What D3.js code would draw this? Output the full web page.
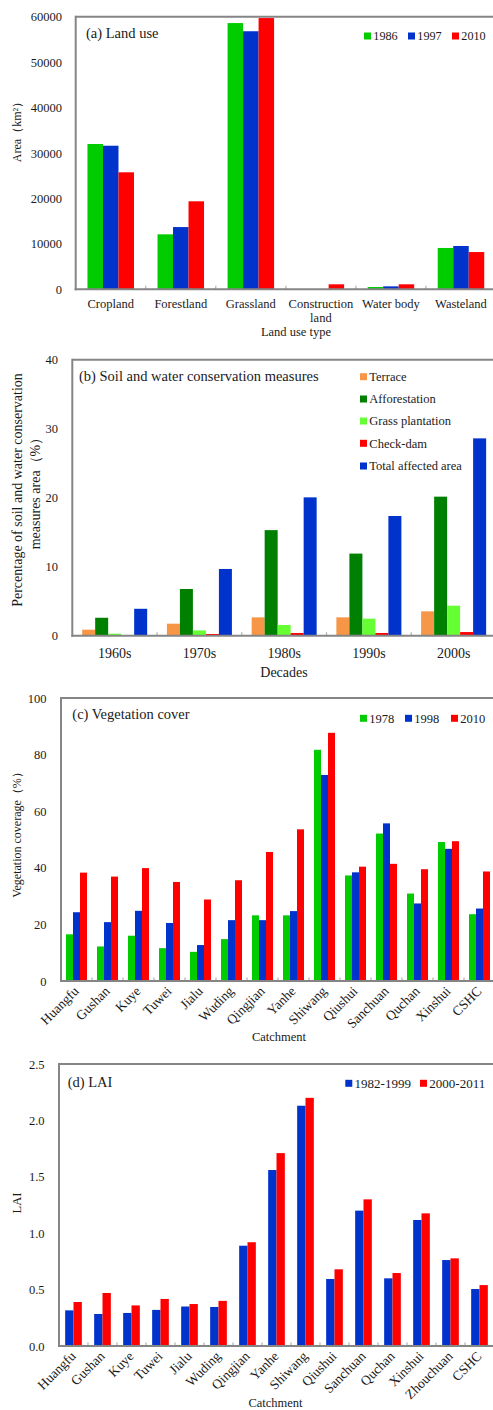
<!DOCTYPE html>
<html>
<head>
<meta charset="utf-8">
<script src="https://cdn.jsdelivr.net/npm/d3@7"></script>
<style>
  html, body { margin: 0; padding: 0; background: #fff; }
  svg { display: block; }
  text { font-family: "Liberation Serif", "Times New Roman", serif; fill: #1a1a1a; }
</style>
</head>
<body>
<svg id="chart" width="493" height="1410"></svg>
<script>
// (a) Land use area, km²
const landTypes = ["Cropland", "Forestland", "Grassland", "Construction land", "Water body", "Wasteland"];
const land1986 = [31980, 12100, 58600, 0, 500, 9100];
const land1997 = [31600, 13700, 56800, 0, 650, 9530];
const land2010 = [25750, 19370, 59700, 1100, 1100, 8200];
const landTicks = [0, 10000, 20000, 30000, 40000, 50000, 60000];

// (b) Soil and water conservation measures, % of area
const decades = ["1960s", "1970s", "1980s", "1990s", "2000s"];
const terrace = [0.87, 1.74, 2.66, 2.66, 3.53];
const afforestation = [2.6, 6.77, 15.3, 11.9, 20.15];
const grassPlantation = [0.29, 0.77, 1.55, 2.47, 4.35];
const checkDam = [0.1, 0.25, 0.39, 0.39, 0.53];
const totalAffected = [3.9, 9.67, 20.05, 17.35, 28.6];
const swcTicks = [0, 10, 20, 30, 40];

// (c) Vegetation cover, %
const catchmentsC = ["Huangfu", "Gushan", "Kuye", "Tuwei", "Jialu", "Wuding", "Qingjian", "Yanhe",
  "Shiwang", "Qiushui", "Sanchuan", "Quchan", "Xinshui", "CSHC"];
const cover1978 = [16.5, 12.2, 16.0, 11.6, 10.3, 14.8, 23.2, 23.2, 81.7, 37.3, 52.1, 30.9, 49.1, 23.6];
const cover1998 = [24.3, 20.8, 24.8, 20.5, 12.7, 21.5, 21.5, 24.7, 72.8, 38.4, 55.7, 27.4, 46.7, 25.6];
const cover2010 = [38.3, 36.9, 39.9, 35.0, 28.8, 35.6, 45.6, 53.6, 87.7, 40.4, 41.4, 39.5, 49.4, 38.7];
const coverTicks = [0, 20, 40, 60, 80, 100];

// (d) Leaf area index
const catchmentsD = ["Huangfu", "Gushan", "Kuye", "Tuwei", "Jialu", "Wuding", "Qingjian", "Yanhe",
  "Shiwang", "Qiushui", "Sanchuan", "Quchan", "Xinshui", "Zhouchuan", "CSHC"];
const lai1982_1999 = [0.316, 0.284, 0.293, 0.32, 0.35, 0.346, 0.889, 1.56, 2.13, 0.594, 1.20, 0.60, 1.117, 0.762, 0.505];
const lai2000_2011 = [0.39, 0.47, 0.36, 0.417, 0.372, 0.40, 0.92, 1.71, 2.20, 0.68, 1.30, 0.647, 1.176, 0.777, 0.54];
const laiTicks = [0, 0.5, 1.0, 1.5, 2.0, 2.5];

const GREEN = "#00cc00", BLUE = "#0033cc", RED = "#ff0000";
const AXIS = "#858585";

const svg = d3.select("#chart");

function drawPanel(p) {
  const g = svg.append("g");
  const x0 = d3.scaleBand().domain(p.categories).range([p.left, p.right])
    .paddingInner(p.pad).paddingOuter(p.pad / 2);
  const x1 = d3.scaleBand().domain(p.series.map(s => s.name)).range([0, x0.bandwidth()]);
  const y = d3.scaleLinear().domain(p.domain).range([p.bottom, p.top]);

  // bars
  p.series.forEach(s => {
    g.append("g").selectAll("rect").data(s.values).join("rect")
      .attr("x", (d, i) => x0(p.categories[i]) + x1(s.name))
      .attr("y", d => y(d))
      .attr("width", x1.bandwidth())
      .attr("height", d => y(0) - y(d))
      .attr("fill", s.color);
  });

  // y axis labels (no tick marks)
  const yAxis = d3.axisLeft(y).tickValues(p.ticks).tickSize(0).tickPadding(0)
    .tickFormat(p.format);
  const ya = g.append("g").attr("transform", `translate(${p.labelRight},0)`).call(yAxis);
  ya.select(".domain").remove();
  ya.selectAll("text").attr("font-size", p.tickFont).attr("font-family", "Liberation Serif").attr("fill", "#1a1a1a");

  // small inner ticks between categories
  const step = x0.step();
  const bounds = d3.range(1, p.categories.length).map(i => p.left + i * step);
  g.append("g").selectAll("line").data(bounds).join("line")
    .attr("x1", d => d).attr("x2", d => d)
    .attr("y1", p.bottom).attr("y2", p.bottom - 3.5)
    .attr("stroke", "#b0b0b0").attr("stroke-width", 1.2);

  // frame: top, left and bottom lines
  g.append("line").attr("x1", p.left).attr("x2", 500).attr("y1", p.top).attr("y2", p.top)
    .attr("stroke", AXIS).attr("stroke-width", 2);
  g.append("line").attr("x1", p.left).attr("x2", p.left).attr("y1", p.top - 1).attr("y2", p.bottom + 1)
    .attr("stroke", AXIS).attr("stroke-width", 2);
  g.append("line").attr("x1", p.left - 1).attr("x2", 500).attr("y1", p.bottom).attr("y2", p.bottom)
    .attr("stroke", AXIS).attr("stroke-width", 2);

  // panel title
  g.append("text").attr("x", p.titleX).attr("y", p.titleY).attr("font-size", 14.5).text(p.title);

  // category labels
  if (p.rotate) {
    g.append("g").selectAll("text").data(p.categories).join("text")
      .attr("transform", d => `translate(${x0(d) + x0.bandwidth() / 2 + 3},${p.bottom + 11}) rotate(-45)`)
      .attr("text-anchor", "end").attr("font-size", p.catFont).text(d => d);
  } else {
    p.categories.forEach(c => {
      const lines = p.wrap && p.wrap[c] ? p.wrap[c] : [c];
      const t = g.append("text").attr("text-anchor", "middle").attr("font-size", p.catFont);
      lines.forEach((ln, k) => {
        t.append("tspan").attr("x", x0(c) + x0.bandwidth() / 2)
          .attr("y", p.catY + k * p.lineGap).text(ln);
      });
    });
  }

  // x title
  g.append("text").attr("x", p.xTitleX).attr("y", p.xTitleY).attr("text-anchor", "middle")
    .attr("font-size", p.xTitleFont).text(p.xTitle);

  // y title (one or more lines)
  p.yTitle.forEach((ln, k) => {
    g.append("text")
      .attr("transform", `translate(${p.yTitleX + k * p.yTitleGap},${p.yTitleY}) rotate(-90)`)
      .attr("text-anchor", "middle").attr("font-size", p.yTitleFont).text(ln);
  });

  // legend
  p.legend.forEach(it => {
    g.append("rect").attr("x", it.x).attr("y", it.y - 3.5).attr("width", 7).attr("height", 7)
      .attr("fill", it.color);
    g.append("text").attr("x", it.x + 9.3).attr("y", it.y + 4.3).attr("font-size", p.legendFont)
      .text(it.name);
  });
}

// (a)
drawPanel({
  categories: landTypes,
  series: [
    { name: "1986", values: land1986, color: GREEN },
    { name: "1997", values: land1997, color: BLUE },
    { name: "2010", values: land2010, color: RED }
  ],
  domain: [0, 60000], ticks: landTicks, format: d3.format("d"),
  left: 75.7, right: 496, top: 16.7, bottom: 289.3, pad: 0.336,
  labelRight: 62, tickFont: 12.5,
  title: "(a) Land use", titleX: 86, titleY: 37.5,
  catFont: 12.5, catY: 307.5, lineGap: 14.5,
  wrap: { "Construction land": ["Construction", "land"] },
  xTitle: "Land use type", xTitleX: 296, xTitleY: 336, xTitleFont: 12.5,
  yTitle: ["Area（km²）"], yTitleX: 21, yTitleY: 129, yTitleGap: 0, yTitleFont: 12,
  legendFont: 12.2,
  legend: [
    { name: "1986", color: GREEN, x: 364, y: 36 },
    { name: "1997", color: BLUE, x: 408, y: 36 },
    { name: "2010", color: RED, x: 452, y: 36 }
  ]
});

// (b)
drawPanel({
  categories: decades,
  series: [
    { name: "Terrace", values: terrace, color: "#f79646" },
    { name: "Afforestation", values: afforestation, color: "#008000" },
    { name: "Grass plantation", values: grassPlantation, color: "#66ff33" },
    { name: "Check-dam", values: checkDam, color: RED },
    { name: "Total affected area", values: totalAffected, color: BLUE }
  ],
  domain: [0, 40], ticks: swcTicks, format: d3.format("d"),
  left: 72.3, right: 496, top: 359.7, bottom: 635.7, pad: 0.233,
  labelRight: 58, tickFont: 12.5,
  title: "(b) Soil and water conservation measures", titleX: 79, titleY: 381,
  catFont: 14, catY: 658, lineGap: 0,
  xTitle: "Decades", xTitleX: 284, xTitleY: 677, xTitleFont: 14,
  yTitle: ["Percentage of soil and water conservation", "measures area（%）"],
  yTitleX: 21.5, yTitleY: 490, yTitleGap: 18.5, yTitleFont: 14,
  legendFont: 12.5,
  legend: [
    { name: "Terrace", color: "#f79646", x: 360, y: 376.7 },
    { name: "Afforestation", color: "#008000", x: 360, y: 399 },
    { name: "Grass plantation", color: "#66ff33", x: 360, y: 421 },
    { name: "Check-dam", color: RED, x: 360, y: 443.3 },
    { name: "Total affected area", color: BLUE, x: 360, y: 466 }
  ]
});

// (c)
drawPanel({
  categories: catchmentsC,
  series: [
    { name: "1978", values: cover1978, color: GREEN },
    { name: "1998", values: cover1998, color: BLUE },
    { name: "2010", values: cover2010, color: RED }
  ],
  domain: [0, 100], ticks: coverTicks, format: d3.format("d"),
  left: 61, right: 495, top: 698, bottom: 981, pad: 0.323,
  labelRight: 46.5, tickFont: 12.5,
  title: "(c) Vegetation cover", titleX: 72.3, titleY: 719,
  rotate: true, catFont: 13.5,
  xTitle: "Catchment", xTitleX: 279, xTitleY: 1041, xTitleFont: 12.5,
  yTitle: ["Vegetation coverage（%）"], yTitleX: 21, yTitleY: 832, yTitleGap: 0, yTitleFont: 12,
  legendFont: 12.5,
  legend: [
    { name: "1978", color: GREEN, x: 360, y: 718.3 },
    { name: "1998", color: BLUE, x: 405, y: 718.3 },
    { name: "2010", color: RED, x: 451, y: 718.3 }
  ]
});

// (d)
drawPanel({
  categories: catchmentsD,
  series: [
    { name: "1982-1999", values: lai1982_1999, color: BLUE },
    { name: "2000-2011", values: lai2000_2011, color: RED }
  ],
  domain: [0, 2.5], ticks: laiTicks, format: d3.format(".1f"),
  left: 59, right: 494, top: 1064, bottom: 1346, pad: 0.425,
  labelRight: 44.5, tickFont: 12.5,
  title: "(d) LAI", titleX: 67.7, titleY: 1087,
  rotate: true, catFont: 13.5,
  xTitle: "Catchment", xTitleX: 275.5, xTitleY: 1407, xTitleFont: 12.5,
  yTitle: ["LAI"], yTitleX: 21, yTitleY: 1203, yTitleGap: 0, yTitleFont: 12.5,
  legendFont: 13,
  legend: [
    { name: "1982-1999", color: BLUE, x: 345.3, y: 1083.3 },
    { name: "2000-2011", color: RED, x: 420, y: 1083.3 }
  ]
});
</script>
</body>
</html>
